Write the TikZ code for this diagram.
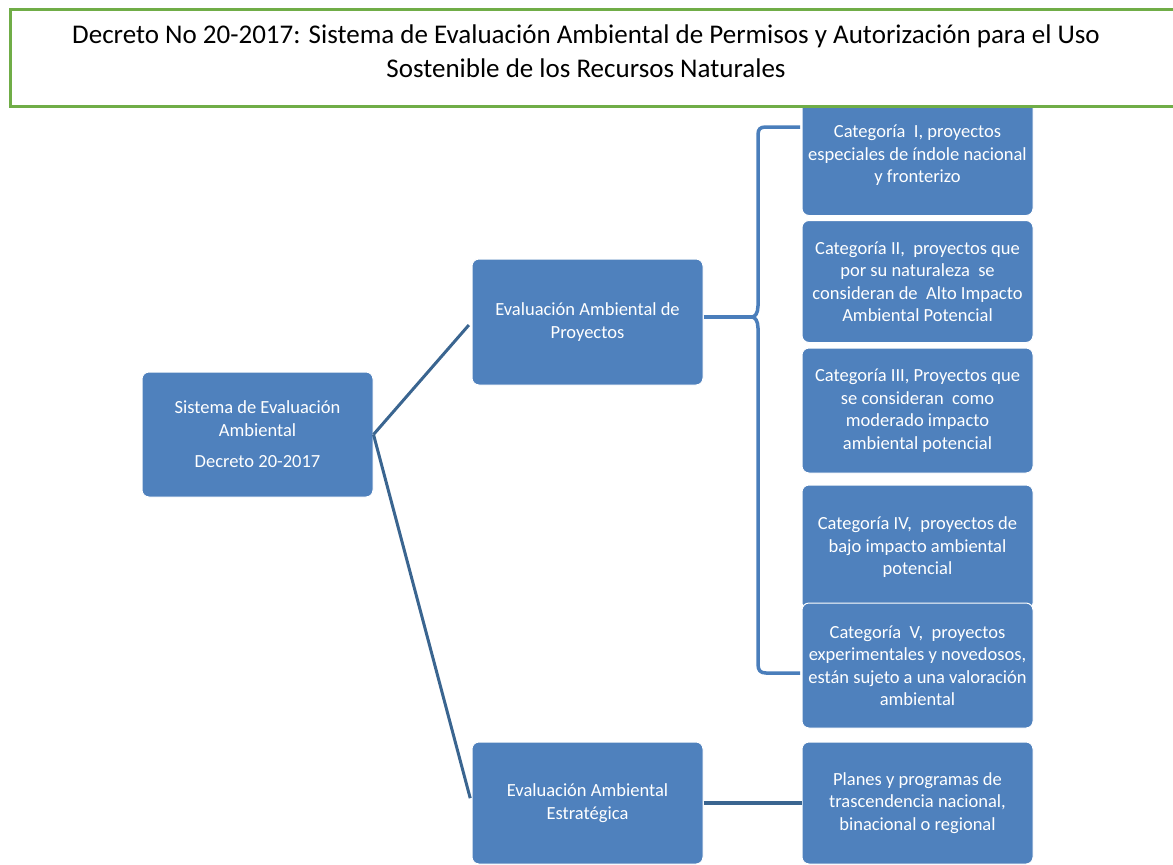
\documentclass[tikz,border=0pt]{standalone}
\usepackage{fontspec}
\setmainfont{Carlito}
\definecolor{boxblue}{HTML}{4F81BD}
\definecolor{bracecol}{HTML}{4A7EBB}
\definecolor{linkcol}{HTML}{3A6590}
\definecolor{titlegreen}{HTML}{70AD47}
\tikzset{
  bluebox/.style={rectangle, rounded corners=7pt, fill=boxblue, draw=white, line width=1pt,
    text=white, align=center, inner sep=2pt, minimum width=231pt,
    font=\fontsize{18.5}{22.5}\selectfont},
  bracepath/.style={draw=bracecol, line width=3.5pt},
  linkpath/.style={draw=linkcol, line width=3pt},
  titlebox/.style={rectangle, draw=titlegreen, fill=white, line width=3pt},
  titletext/.style={align=center, text=black, font=\fontsize{27}{34}\selectfont}
}
\begin{document}
\begin{tikzpicture}[x=1pt,y=-1pt]
\useasboundingbox (0,0) rectangle (1173,865);
% category boxes
\node[bluebox, minimum height=120pt] (cat1) at (917.5,155.5) {Categoría\ \ I, proyectos\\especiales de índole nacional\\y fronterizo};
\node[bluebox, minimum height=122pt] (cat2) at (917.5,281.5) {Categoría II,\ \ proyectos que\\por su naturaleza\ \ se\\consideran de\ \ Alto Impacto\\Ambiental Potencial};
\node[bluebox, minimum height=125pt] (cat3) at (917.5,410.5) {Categoría III, Proyectos que\\se consideran\ \ como\\moderado impacto\\ambiental potencial};
\node[bluebox, minimum height=125pt] (cat4) at (917.5,547.5) {Categoría IV,\ \ proyectos de\\bajo impacto ambiental\\potencial};
\node[bluebox, minimum height=125pt] (cat5) at (917.5,665.5) {Categoría\ \ V,\ \ proyectos\\experimentales y novedosos,\\están sujeto a una valoración\\ambiental};
% title
\node[titlebox, minimum width=1180pt, minimum height=97pt, anchor=north west] (titlerect) at (9,8) {};
\node[titletext] (title) at (586,51) {Decreto No 20-2017: Sistema de Evaluación Ambiental de Permisos y Autorización para el Uso\\Sostenible de los Recursos Naturales};
% main boxes
\node[bluebox, minimum height=125pt] (root) at (257.5,434.5) {Sistema de Evaluación\\Ambiental\\[9pt]Decreto 20-2017};
\node[bluebox, minimum height=126pt] (eap) at (587.5,322) {Evaluación Ambiental de\\Proyectos};
\node[bluebox, minimum height=122pt] (eae) at (587.5,803) {Evaluación Ambiental\\Estratégica};
\node[bluebox, minimum height=122pt] (planes) at (917.5,803) {Planes y programas de\\trascendencia nacional,\\binacional o regional};
% connectors
\draw[linkpath, shorten >=4pt] (root.east) -- (eap.west);
\draw[linkpath, shorten >=5pt] (root.east) -- (eae.west);
\draw[linkpath, line width=3.5pt] (eae.east) -- (planes.west);
% brace
\coordinate (tip) at (752,317);
\coordinate (b1) at (800,127);
\coordinate (b5) at (800,673);
\draw[bracepath] ([yshift=5pt]eap.east) -- (tip);
\draw[bracepath, line join=round] (b1) -- (766,127) .. controls (760,127) and (758,129) .. (758,135) -- (758,306)
  .. controls (758,313) and (755,317) .. (tip)
  .. controls (755,317) and (758,321) .. (758,328) -- (758,664)
  .. controls (758,670) and (760,673) .. (766,673) -- (b5);
\end{tikzpicture}
\end{document}
